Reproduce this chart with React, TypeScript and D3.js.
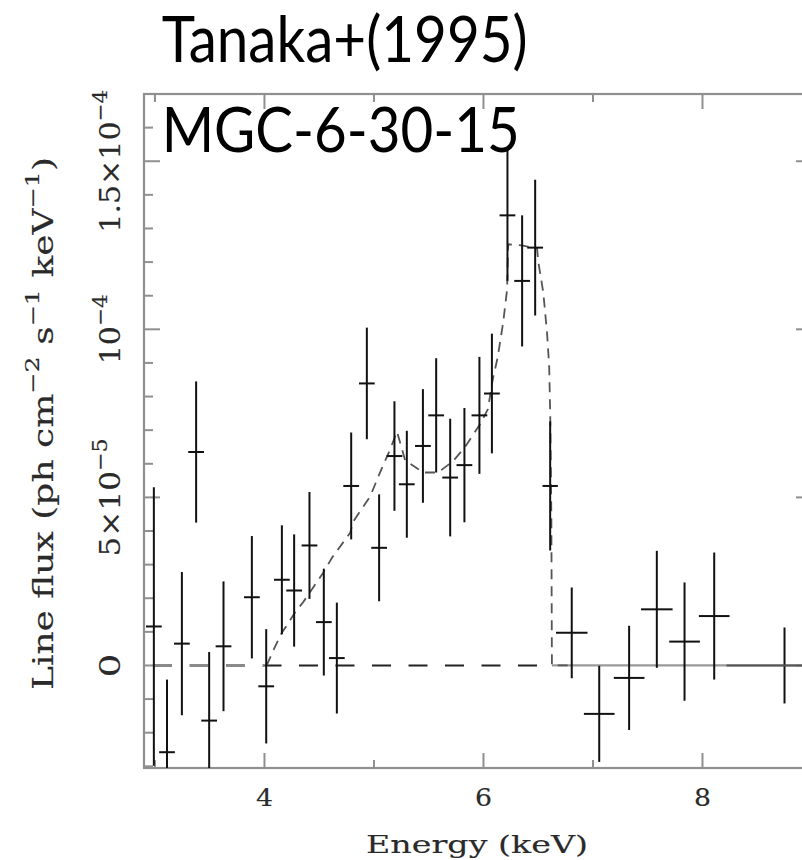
import React from "react";
import * as d3 from "d3";

// Observed Fe K line profile of MCG-6-30-15 (flux in units of 1e-5 ph cm^-2 s^-1 keV^-1)
const energyKeV = [
  2.99, 3.11, 3.246, 3.376, 3.495, 3.626, 3.885, 4.016, 4.159, 4.271, 4.411, 4.542,
  4.661, 4.792, 4.935, 5.047, 5.187, 5.3, 5.447, 5.568, 5.696, 5.826, 5.963, 6.077,
  6.219, 6.353, 6.472, 6.609, 6.806, 7.057, 7.33, 7.583, 7.836, 8.107, 8.749,
];
const lineFlux = [
  1.16, -2.58, 0.65, 6.35, -1.64, 0.57, 2.03, -0.62, 2.55, 2.23, 3.57, 1.29,
  0.22, 5.34, 8.39, 3.5, 6.23, 5.39, 6.53, 7.44, 5.59, 5.96, 7.44, 8.09,
  13.39, 11.44, 12.43, 5.34, 0.97, -1.44, -0.37, 1.67, 0.71, 1.47, 0.0,
];
const fluxErr = [
  4.14, 2.16, 2.13, 2.1, 2.04, 1.93, 1.82, 1.7, 1.62, 1.67, 1.59, 1.59,
  1.65, 1.59, 1.66, 1.59, 1.63, 1.59, 1.69, 1.7, 1.75, 1.7, 1.74, 1.78,
  1.95, 1.95, 2.02, 1.92, 1.35, 1.43, 1.55, 1.74, 1.76, 1.89, 1.13,
];
const binHalfWidth = [
  0.072, 0.072, 0.072, 0.072, 0.072, 0.072, 0.072, 0.072, 0.072, 0.072, 0.072, 0.072,
  0.072, 0.072, 0.072, 0.072, 0.072, 0.072, 0.072, 0.072, 0.072, 0.072, 0.072, 0.072,
  0.072, 0.072, 0.072, 0.07, 0.144, 0.14, 0.14, 0.144, 0.14, 0.14, 0.53,
];

// Disk-line model profile
const modelEnergy = [
  4.02, 4.098, 4.16, 4.216, 4.28, 4.353, 4.445, 4.527, 4.618, 4.783, 4.81, 4.966,
  5.047, 5.148, 5.21, 5.285, 5.45, 5.585, 5.72, 5.83, 5.967, 6.04, 6.085, 6.13,
  6.18, 6.216, 6.225, 6.35, 6.49, 6.5, 6.546, 6.58, 6.6, 6.61, 6.62, 6.625, 6.8,
];
const modelFlux = [
  0.0, 0.57, 0.98, 1.25, 1.58, 1.88, 2.32, 2.71, 3.21, 3.95, 4.28, 5.03,
  5.68, 6.43, 6.96, 6.1, 5.74, 5.74, 6.07, 6.49, 7.17, 7.62, 8.51, 9.17,
  10.21, 11.19, 12.53, 12.5, 12.4, 12.02, 11.1, 9.91, 8.9, 7.4, 4.37, 0.0, 0.0,
];

const xMajorTicks = [4, 6, 8];
const xMinorTicks = [3, 5, 7, 9];
const yMajorTicks = [0, 5, 10, 15];
const yTickMantissa = ["0", "5×10", "10", "1.5×10"];
const yTickExponent = ["", "−5", "−4", "−4"];
const yMinorTicks = d3.range(-3, 18, 1).filter((v) => v % 5 !== 0);

const W = 802;
const H = 860;
const plot = { left: 144, right: 812, top: 94, bottom: 768 };

const frameColor = "#8f8f8f";
const inkColor = "#2a2a2a";
const serif = "'DejaVu Serif', 'Liberation Serif', serif";
const sans = "Lato, 'Open Sans', 'Noto Sans', sans-serif";

// rendered lengths of the rotated y tick labels
const yLabelLength = [24, 118, 70, 143];

export default function App() {
  const x = d3.scaleLinear().domain([2.9, 9.0]).range([plot.left, plot.right]);
  const y = d3.scaleLinear().domain([-3.05, 17.0]).range([plot.bottom, plot.top]);

  const modelLine = d3
    .line<number>()
    .x((_, i) => x(modelEnergy[i]))
    .y((d) => y(d));

  const y0 = y(0);
  const dashPeriod = 36.5;
  const dashStartOffset = 27.5;
  const phaseAt = (px: number) => (px - plot.left + dashStartOffset) % dashPeriod;
  const modelEnd = x(6.625);

  const textInk = { fill: inkColor, stroke: inkColor, strokeWidth: 0.15 };

  return (
    <svg
      width={W}
      height={H}
      viewBox={`0 0 ${W} ${H}`}
      style={{ position: "absolute", left: 0, top: 0, background: "#fff" }}
    >
      <defs>
        <clipPath id="plotArea">
          <rect x={plot.left} y={plot.top} width={plot.right - plot.left} height={plot.bottom - plot.top} />
        </clipPath>
      </defs>

      {/* frame */}
      <rect
        x={plot.left}
        y={plot.top}
        width={plot.right - plot.left}
        height={plot.bottom - plot.top}
        fill="none"
        stroke={frameColor}
        strokeWidth={2.2}
      />

      {/* ticks on all four sides */}
      <g stroke={frameColor} strokeWidth={2}>
        {xMajorTicks.map((t) => (
          <g key={`xM${t}`}>
            <line x1={x(t)} x2={x(t)} y1={plot.bottom} y2={plot.bottom - 15} />
            <line x1={x(t)} x2={x(t)} y1={plot.top} y2={plot.top + 15} />
          </g>
        ))}
        {xMinorTicks.map((t) => (
          <g key={`xm${t}`}>
            <line x1={x(t)} x2={x(t)} y1={plot.bottom} y2={plot.bottom - 8} />
            <line x1={x(t)} x2={x(t)} y1={plot.top} y2={plot.top + 8} />
          </g>
        ))}
        {yMajorTicks.map((t) => (
          <g key={`yM${t}`}>
            <line x1={plot.left} x2={plot.left + 16} y1={y(t)} y2={y(t)} />
            <line x1={plot.right} x2={plot.right - 16} y1={y(t)} y2={y(t)} />
          </g>
        ))}
        {yMinorTicks.map((t) => (
          <g key={`ym${t}`}>
            <line x1={plot.left} x2={plot.left + 9} y1={y(t)} y2={y(t)} />
            <line x1={plot.right} x2={plot.right - 9} y1={y(t)} y2={y(t)} />
          </g>
        ))}
      </g>

      {/* x tick labels */}
      <g fontFamily={serif} fontSize={25} textAnchor="middle" {...textInk}>
        {xMajorTicks.map((t) => (
          <text key={`xl${t}`} x={x(t)} y={806} textLength={17} lengthAdjust="spacingAndGlyphs">
            {t}
          </text>
        ))}
      </g>

      {/* y tick labels (rotated) */}
      <g fontFamily={serif} {...textInk}>
        {yMajorTicks.map((t, i) => (
          <text
            key={`yl${t}`}
            transform={`translate(120, ${y(t)}) rotate(-90)`}
            textAnchor="middle"
            fontSize={28}
            textLength={yLabelLength[i]}
            lengthAdjust="spacingAndGlyphs"
          >
            {yTickMantissa[i]}
            {yTickExponent[i] && (
              <tspan dy={-13} fontSize={20}>
                {yTickExponent[i]}
              </tspan>
            )}
          </text>
        ))}
      </g>

      {/* axis titles */}
      <text
        x={366}
        y={853}
        fontFamily={serif}
        fontSize={25}
        textLength={222}
        lengthAdjust="spacingAndGlyphs"
        {...textInk}
      >
        Energy  (keV)
      </text>
      <text
        transform="translate(53, 690) rotate(-90)"
        fontFamily={serif}
        fontSize={27}
        textLength={533}
        lengthAdjust="spacingAndGlyphs"
        {...textInk}
      >
        Line flux (ph cm
        <tspan dy={-14} fontSize={19}>−2</tspan>
        <tspan dy={14}> s</tspan>
        <tspan dy={-14} fontSize={19}>−1</tspan>
        <tspan dy={14}> keV</tspan>
        <tspan dy={-14} fontSize={19}>−1</tspan>
        <tspan dy={14}>)</tspan>
      </text>

      <g clipPath="url(#plotArea)">
        {/* zero reference */}
        <line
          x1={plot.left}
          x2={x(4.0)}
          y1={y0}
          y2={y0}
          stroke="#8a8a8a"
          strokeWidth={3}
          strokeDasharray={`19 ${dashPeriod - 19}`}
          strokeDashoffset={dashStartOffset}
        />
        <line
          x1={x(4.0)}
          x2={modelEnd}
          y1={y0}
          y2={y0}
          stroke="#222"
          strokeWidth={2}
          strokeDasharray={`19 ${dashPeriod - 19}`}
          strokeDashoffset={phaseAt(x(4.0))}
        />
        <line x1={modelEnd} x2={plot.right} y1={y0} y2={y0} stroke="#9a9a9a" strokeWidth={2.2} />

        {/* model */}
        <path
          d={modelLine(modelFlux) ?? ""}
          fill="none"
          stroke="#555"
          strokeWidth={1.8}
          strokeDasharray="10 7"
        />

        {/* data with error bars */}
        <g stroke="#111" strokeWidth={2}>
          {energyKeV.map((e, i) => (
            <g key={`pt${i}`}>
              <line
                x1={x(e)}
                x2={x(e)}
                y1={y(lineFlux[i] - fluxErr[i])}
                y2={y(lineFlux[i] + fluxErr[i])}
              />
              <line
                x1={x(e - binHalfWidth[i])}
                x2={x(e + binHalfWidth[i])}
                y1={y(lineFlux[i])}
                y2={y(lineFlux[i])}
                stroke={i === energyKeV.length - 1 ? "#555" : undefined}
              />
            </g>
          ))}
        </g>
      </g>

      {/* titles */}
      <text
        x={161.7}
        y={61.7}
        fontFamily={sans}
        fontSize={64}
        fill="#000"
        textLength={366}
        lengthAdjust="spacingAndGlyphs"
      >
        Tanaka+(1995)
      </text>
      <text
        x={161.7}
        y={151.7}
        fontFamily={sans}
        fontSize={61}
        fill="#000"
        textLength={358}
        lengthAdjust="spacingAndGlyphs"
      >
        MGC-6-30-15
      </text>
    </svg>
  );
}
